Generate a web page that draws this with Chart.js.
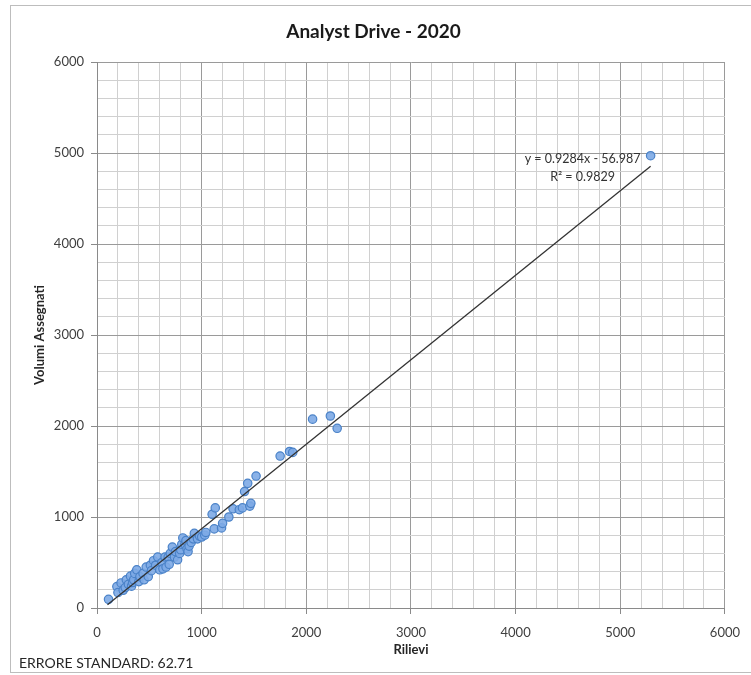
<!DOCTYPE html>
<html>
<head>
<meta charset="utf-8">
<script src="https://cdn.jsdelivr.net/npm/chart.js@4.4.1/dist/chart.umd.min.js"></script>
<style>
  html, body { margin: 0; padding: 0; background: #fff; }
  canvas { display: block; }
</style>
</head>
<body>
<canvas id="scatterChart" width="751" height="675"></canvas>
<script>
// Data
const rilievi = [110, 190, 200, 230, 250, 270, 280, 300, 320, 330, 340, 350, 360, 380, 400, 410, 440, 450, 470, 490,
  510, 520, 540, 560, 580, 600, 620, 630, 650, 660, 680, 690, 700, 720, 740, 750, 770, 790, 800, 810,
  820, 840, 850, 860, 870, 880, 900, 920, 930, 960, 980, 1000, 1030, 1040, 1100, 1120, 1130, 1190,
  1200, 1260, 1300, 1360, 1390, 1410, 1440, 1460, 1470, 1520, 1750, 1840, 1870, 2060, 2230, 2295, 5290];
const volumi = [95, 235, 170, 275, 195, 225, 310, 260, 350, 240, 280, 310, 380, 420, 290, 345, 380, 310, 450, 345,
  470, 410, 520, 470, 560, 420, 500, 430, 560, 450, 560, 480, 600, 670, 560, 620, 530, 600, 640, 700,
  770, 700, 740, 650, 620, 680, 720, 760, 820, 760, 790, 780, 800, 830, 1030, 870, 1100, 880,
  930, 1000, 1090, 1080, 1100, 1280, 1370, 1120, 1150, 1450, 1670, 1720, 1710, 2075, 2110, 1975, 4970];

// Trend line end points (y = 0.9284x - 56.987)
const trendX = [100, 5290];
const trendY = [36, 4854];

const equationText = ["y = 0.9284x - 56.987", "R² = 0.9829"];
const footerText = "ERRORE STANDARD: 62.71";

const FONT = "Lato, 'Liberation Sans', sans-serif";

const points = rilievi.map((x, i) => ({ x: x, y: volumi[i] }));
const trend = trendX.map((x, i) => ({ x: x, y: trendY[i] }));

const isMajor = (v) => v % 1000 === 0;

// frame, white background, equation and footer text
const extrasPlugin = {
  id: "extras",
  beforeDraw(chart) {
    const ctx = chart.ctx;
    ctx.save();
    ctx.fillStyle = "#fff";
    ctx.fillRect(0, 0, chart.width, chart.height);
    ctx.strokeStyle = "#bdbdbd";
    ctx.lineWidth = 1;
    ctx.strokeRect(10.5, 5.5, 800, 667);
    ctx.restore();
  },
  afterDraw(chart) {
    const ctx = chart.ctx;
    const xs = chart.scales.x, ys = chart.scales.y;
    ctx.save();
    ctx.fillStyle = "#333";
    ctx.font = "12.5px " + FONT;
    ctx.textAlign = "center";
    ctx.textBaseline = "middle";
    ctx.fillText(equationText[0], xs.getPixelForValue(4640), ys.getPixelForValue(4934));
    ctx.fillText(equationText[1], xs.getPixelForValue(4640), ys.getPixelForValue(4736));
    ctx.font = "14px " + FONT;
    ctx.textAlign = "left";
    ctx.fillStyle = "#262626";
    ctx.fillText(footerText, 19, 663);
    ctx.restore();
  }
};

const ctx = document.getElementById("scatterChart").getContext("2d");
new Chart(ctx, {
  type: "scatter",
  data: {
    datasets: [
      {
        label: "Volumi",
        data: points,
        backgroundColor: "rgba(125, 170, 230, 0.9)",
        borderColor: "#4a82c8",
        borderWidth: 1.2,
        pointRadius: 4.2,
        order: 1
      },
      {
        label: "Trend",
        type: "line",
        data: trend,
        borderColor: "#333",
        borderWidth: 1.3,
        pointRadius: 0,
        fill: false,
        order: 0
      }
    ]
  },
  options: {
    responsive: false,
    animation: false,
    layout: { padding: { left: 20, right: 24, top: 0, bottom: 0 } },
    plugins: {
      legend: { display: false },
      tooltip: { enabled: false },
      title: {
        display: true,
        text: "Analyst Drive - 2020",
        color: "#1a1a1a",
        font: { family: FONT, size: 19, weight: "bold", lineHeight: 1.2 },
        padding: { top: 20.5, bottom: 18.7 }
      }
    },
    scales: {
      x: {
        type: "linear",
        min: 0,
        max: 6000,
        afterFit(scale) { scale.height = 67; },
        ticks: {
          stepSize: 200,
          autoSkip: false,
          maxRotation: 0,
          padding: 11,
          color: "#404040",
          font: { family: FONT, size: 13 },
          callback: (v) => (isMajor(v) ? String(v) : "")
        },
        grid: {
          color: (c) => (isMajor(c.tick.value) ? "#9a9a9a" : "#d0d0d0"),
          tickColor: (c) => (isMajor(c.tick.value) ? "#8a8a8a" : "rgba(0,0,0,0)"),
          tickLength: 6
        },
        border: { color: "#8a8a8a" },
        title: {
          display: true,
          text: "Rilievi",
          color: "#262626",
          font: { family: FONT, size: 13, weight: "bold", lineHeight: 1.2 },
          padding: { top: 0, bottom: 17.2 }
        }
      },
      y: {
        type: "linear",
        min: 0,
        max: 6000,
        afterFit(scale) { scale.width = 77; },
        ticks: {
          stepSize: 200,
          autoSkip: false,
          padding: 7,
          color: "#404040",
          font: { family: FONT, size: 13 },
          callback: (v) => (isMajor(v) ? String(v) : "")
        },
        grid: {
          color: (c) => (isMajor(c.tick.value) ? "#9a9a9a" : "#d0d0d0"),
          tickColor: (c) => (isMajor(c.tick.value) ? "#8a8a8a" : "rgba(0,0,0,0)"),
          tickLength: 6
        },
        border: { color: "#8a8a8a" },
        title: {
          display: true,
          text: "Volumi Assegnati",
          color: "#262626",
          font: { family: FONT, size: 13, weight: "bold", lineHeight: 1.2 },
          padding: { top: 12.2, bottom: 0 }
        }
      }
    }
  },
  plugins: [extrasPlugin]
});
</script>
</body>
</html>
